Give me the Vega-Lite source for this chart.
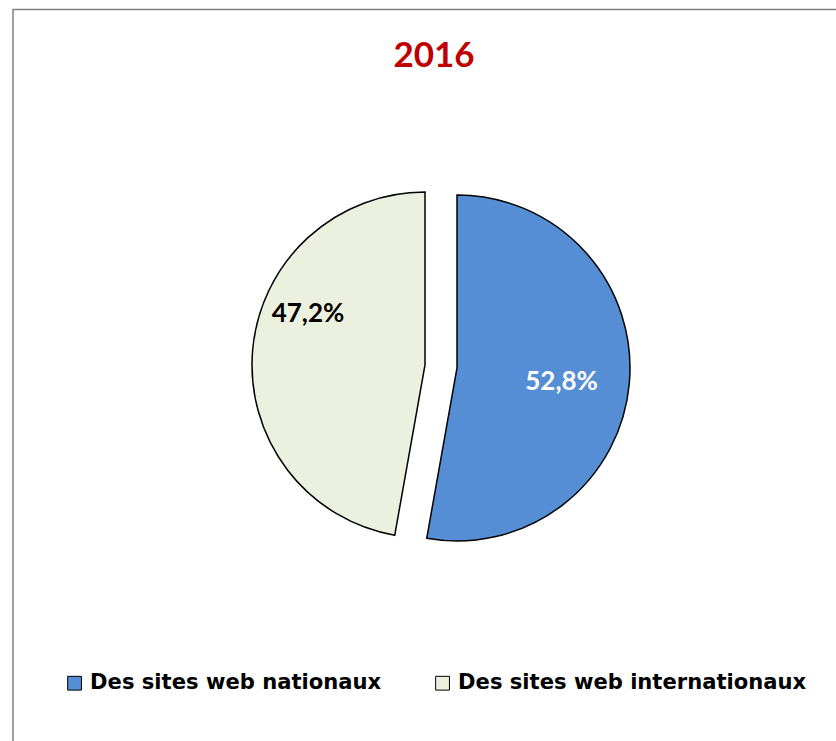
{
  "$schema": "https://vega.github.io/schema/vega-lite/v6.json",
  "autosize": {"type": "none"},
  "padding": {"left": 13, "top": 9.5, "right": 0, "bottom": 0},
  "width": 842,
  "height": 752,
  "background": "white",
  "config": {"view": {"stroke": "#808080", "strokeWidth": 1.5}, "font": "Lato"},
  "title": {"text": "2016", "color": "#C00000", "fontSize": 35, "font": "Lato", "fontWeight": "bold", "anchor": "middle", "frame": "group", "offset": -93, "baseline": "alphabetic"},
  "data": {"values": [
    {"category": "Des sites web nationaux", "value": 52.8, "label": "52,8%"},
    {"category": "Des sites web internationaux", "value": 47.2, "label": "47,2%"}
  ]},
  "layer": [
    {
      "data": {"values": [{"frame": "border"}]},
      "mark": {"type": "rect", "fill": "transparent", "stroke": "#808080", "strokeWidth": 1.5},
      "encoding": {}
    },
    {
      "mark": {"type": "arc", "radius": 173, "stroke": "black", "strokeWidth": 1.5, "xOffset": 23, "yOffset": -17.5},
      "encoding": {
        "theta": {"field": "value", "type": "quantitative", "stack": true},
        "order": {"field": "category", "sort": "descending"},
        "color": {"field": "category", "type": "nominal", "sort": ["Des sites web nationaux", "Des sites web internationaux"],
          "scale": {"domain": ["Des sites web nationaux", "Des sites web internationaux"], "range": ["#558ED5", "#EBF1DE"]},
          "legend": {"orient": "none", "legendX": 51, "legendY": 663, "direction": "horizontal", "title": null,
            "symbolType": "square", "symbolSize": 190, "symbolStrokeColor": "black", "symbolStrokeWidth": 1, "symbolOpacity": 1,
            "labelFontSize": 21.1, "labelFont": "DejaVu Sans", "labelFontWeight": "bold", "labelColor": "black", "labelOffset": 5,
            "columnPadding": 50, "labelLimit": 0, "padding": 0}},
        "fillOpacity": {"condition": {"test": "datum.category === 'Des sites web nationaux'", "value": 1}, "value": 0},
        "strokeOpacity": {"condition": {"test": "datum.category === 'Des sites web nationaux'", "value": 1}, "value": 0}
      }
    },
    {
      "mark": {"type": "arc", "radius": 173, "stroke": "black", "strokeWidth": 1.5, "xOffset": -9, "yOffset": -20.5},
      "encoding": {
        "theta": {"field": "value", "type": "quantitative", "stack": true},
        "order": {"field": "category", "sort": "descending"},
        "color": {"field": "category", "type": "nominal"},
        "fillOpacity": {"condition": {"test": "datum.category === 'Des sites web internationaux'", "value": 1}, "value": 0},
        "strokeOpacity": {"condition": {"test": "datum.category === 'Des sites web internationaux'", "value": 1}, "value": 0}
      }
    },
    {
      "mark": {"type": "text", "radius": 105, "fontSize": 26, "font": "Lato", "fontWeight": "bold", "color": "white", "align": "center", "baseline": "middle", "xOffset": 23, "yOffset": -13},
      "encoding": {
        "theta": {"field": "value", "type": "quantitative", "stack": true},
        "order": {"field": "category", "sort": "descending"},
        "text": {"condition": {"test": "datum.category === 'Des sites web nationaux'", "field": "label"}, "value": ""}
      }
    },
    {
      "mark": {"type": "text", "radius": 125, "fontSize": 26, "font": "Lato", "fontWeight": "bold", "color": "black", "align": "center", "baseline": "middle", "xOffset": -1.5, "yOffset": -60.5},
      "encoding": {
        "theta": {"field": "value", "type": "quantitative", "stack": true},
        "order": {"field": "category", "sort": "descending"},
        "text": {"condition": {"test": "datum.category === 'Des sites web internationaux'", "field": "label"}, "value": ""}
      }
    }
  ]
}
